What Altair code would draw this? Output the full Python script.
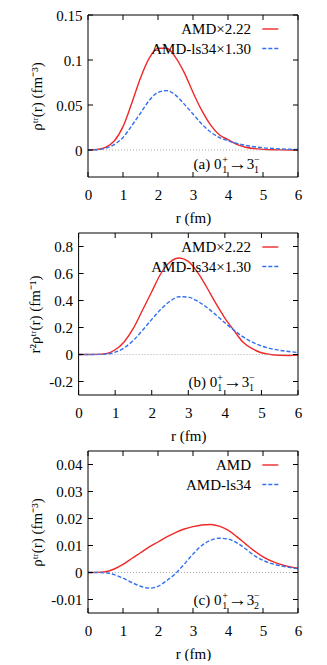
import altair as alt
import pandas as pd

# ---------------- data ----------------
r_grid = [0, 0.25, 0.5, 0.75, 1.0, 1.25, 1.5, 1.75, 2.0, 2.25, 2.5, 2.75, 3.0,
          3.25, 3.5, 3.75, 4.0, 4.25, 4.5, 4.75, 5.0, 5.25, 5.5, 5.75, 6.0]

amd_a = [0, 0.0005, 0.003, 0.010, 0.026, 0.052, 0.080, 0.102, 0.113, 0.113, 0.103,
         0.086, 0.064, 0.044, 0.028, 0.017, 0.0115, 0.0062, 0.003, 0.0015, 0.0007,
         0.0003, 0.0001, 0.0, 0.0]
ls34_a = [0, 0.0003, 0.002, 0.006, 0.014, 0.027, 0.041, 0.055, 0.064, 0.066, 0.061,
          0.051, 0.040, 0.029, 0.020, 0.014, 0.0102, 0.0074, 0.0052, 0.0036, 0.0025,
          0.0018, 0.0012, 0.0008, 0.0006]

amd_b = [0, 0, 0.001, 0.006, 0.035, 0.095, 0.195, 0.33, 0.465, 0.60, 0.685, 0.715,
         0.69, 0.61, 0.50, 0.38, 0.27, 0.178, 0.09, 0.043, 0.013, 0.0, -0.006,
         -0.007, -0.005]
ls34_b = [0, 0, 0.0005, 0.003, 0.017, 0.05, 0.105, 0.18, 0.26, 0.335, 0.395, 0.428,
          0.425, 0.395, 0.35, 0.295, 0.235, 0.18, 0.13, 0.092, 0.063, 0.044, 0.031,
          0.022, 0.015]

amd_c = [0, 0.00003, 0.0003, 0.0013, 0.0030, 0.0052, 0.0073, 0.0095, 0.0113, 0.0132,
         0.0148, 0.0161, 0.0170, 0.0176, 0.0178, 0.0172, 0.0157, 0.0133, 0.0106,
         0.0080, 0.0058, 0.0042, 0.0030, 0.0022, 0.0016]
ls34_c = [0, 0, -0.0001, -0.0008, -0.0021, -0.0037, -0.0051, -0.0058, -0.0051,
          -0.0030, -0.0004, 0.0031, 0.0068, 0.0100, 0.0119, 0.0127, 0.0124, 0.0110,
          0.0088, 0.0063, 0.0045, 0.0033, 0.0025, 0.0019, 0.0014]

x_ticks = [0, 1, 2, 3, 4, 5, 6]
y_ticks_a = [0, 0.05, 0.1, 0.15]
y_ticks_b = [-0.2, 0, 0.2, 0.4, 0.6, 0.8]
y_ticks_c = [-0.01, 0, 0.01, 0.02, 0.03, 0.04]

labels_ab = ["AMD×2.22", "AMD-ls34×1.30"]
labels_c = ["AMD", "AMD-ls34"]

title_a = "ρᵗʳ(r) (fm⁻³)"
title_b = "r²ρᵗʳ(r) (fm⁻¹)"
title_c = "ρᵗʳ(r) (fm⁻³)"

# ---------------- style ----------------
FONT = "Liberation Serif, Times New Roman, serif"
FS = 15
RED = "#f02828"
BLUE = "#2f6ff0"
W = 210
H = 162


def panel(amd, ls34, labels, y_dom, y_ticks, y_title, letter, final_sub,
          x_lo, ext, tpad, ann_x):
    n = len(r_grid)
    df = pd.DataFrame({
        "r": r_grid * 2,
        "v": amd + ls34,
        "s": [labels[0]] * n + [labels[1]] * n,
    })
    xs = alt.Scale(domain=[0, 6], range=[x_lo, W], nice=False, zero=False)
    ys = alt.Scale(domain=y_dom, nice=False, zero=False)
    common = dict(ticks=False, domain=False, grid=False, labelFont=FONT,
                  titleFont=FONT, labelFontSize=FS, titleFontSize=FS,
                  titleFontWeight="normal", labelColor="black", titleColor="black",
                  labelFlush=False, labelExpr="datum.value + ''")
    x_axis = alt.Axis(values=x_ticks, title="r (fm)", labelPadding=10,
                      titlePadding=8, **common)
    ykw = dict(values=y_ticks, title=y_title, labelPadding=6, minExtent=ext,
               maxExtent=ext, titlePadding=tpad, **common)
    if x_lo != 0:
        ykw["offset"] = -x_lo
    y_axis = alt.Axis(**ykw)

    X = lambda f: alt.X(f, scale=xs, axis=x_axis)
    Y = lambda f: alt.Y(f, scale=ys, axis=y_axis)

    red = alt.Chart(df).transform_filter(alt.datum.s == labels[0]).mark_line(
        color=RED, strokeWidth=1.4, interpolate="monotone").encode(
        x=X("r:Q"), y=Y("v:Q"))
    blue = alt.Chart(df).transform_filter(alt.datum.s == labels[1]).mark_line(
        color=BLUE, strokeWidth=1.4, strokeDash=[4, 2], interpolate="monotone").encode(
        x=X("r:Q"), y=Y("v:Q"))

    zero = alt.Chart(pd.DataFrame({"v": [0]})).mark_rule(
        color="#9a9a9a", strokeWidth=0.8, strokeDash=[1, 2]).encode(
        y=Y("v:Q"), x=alt.value(x_lo), x2=alt.value(W))

    xt = pd.DataFrame({"r": x_ticks})
    yt = pd.DataFrame({"v": y_ticks})
    tk = dict(color="black", strokeWidth=1)
    xb = alt.Chart(xt).mark_rule(**tk).encode(
        x=X("r:Q"), y=alt.value(H), y2=alt.value(H - 5))
    xtop = alt.Chart(xt).mark_rule(**tk).encode(
        x=X("r:Q"), y=alt.value(0), y2=alt.value(5))
    yl = alt.Chart(yt).mark_rule(**tk).encode(
        y=Y("v:Q"), x=alt.value(x_lo), x2=alt.value(x_lo + 5))
    yr = alt.Chart(yt).mark_rule(**tk).encode(
        y=Y("v:Q"), x=alt.value(W - 5), x2=alt.value(W))

    frame = alt.Chart(pd.DataFrame({"k": [0]})).mark_rect(
        filled=False, stroke="black", strokeWidth=1).encode(
        x=alt.value(x_lo), x2=alt.value(W), y=alt.value(0), y2=alt.value(H))

    leg = []
    for i, (lab, col, dash) in enumerate([(labels[0], RED, None),
                                          (labels[1], BLUE, [4, 2])]):
        yy = 14 + 19.5 * i
        leg.append(alt.Chart(pd.DataFrame({"label": [lab]})).mark_text(
            align="right", baseline="middle", font=FONT, fontSize=FS,
            color="black").encode(text="label:N", x=alt.value(W - 47),
                                   y=alt.value(yy)))
        rule_kw = dict(color=col, strokeWidth=1.4)
        if dash:
            rule_kw["strokeDash"] = dash
        leg.append(alt.Chart(pd.DataFrame({"label": [lab]})).mark_rule(
            **rule_kw).encode(x=alt.value(W - 35.7), x2=alt.value(W - 19.7),
                              y=alt.value(yy)))

    base_y = H - 8
    pieces = [
        (f"({letter}) 0", 0, 0, FS),
        ("+", 28.6, -6.5, 10),
        ("1", 28.6, 3.5, 10),
        ("→", 34.3, 0.5, 19),
        ("3", 53.2, 0, FS),
        ("−", 60.5, -6.5, 10),
        (final_sub, 60.5, 3.5, 10),
    ]
    ann = []
    for txt, dx, dy, fs in pieces:
        ann.append(alt.Chart(pd.DataFrame({"t": [txt]})).mark_text(
            align="left", baseline="alphabetic", font=FONT, fontSize=fs,
            color="black").encode(text="t:N", x=alt.value(ann_x + dx),
                                   y=alt.value(base_y + dy)))

    return alt.layer(red, blue, zero, xb, xtop, yl, yr, frame, *leg, *ann).properties(
        width=W, height=H)


pa = panel(amd_a, ls34_a, labels_ab, [-0.03, 0.15], y_ticks_a, title_a, "a", "1",
           0, 34, 10, 105.6)
pb = panel(amd_b, ls34_b, labels_ab, [-0.3, 0.9], y_ticks_b, title_b, "b", "1",
           -9.4, 30, 6, 100.6)
pc = panel(amd_c, ls34_c, labels_c, [-0.015, 0.045], y_ticks_c, title_c, "c", "2",
           0, 34, 10, 105.6)

chart = alt.vconcat(pa, pb, pc, spacing=7).properties(
    padding={"left": 19, "top": 0, "right": 0, "bottom": 0}
).configure_view(stroke=None)

chart.save("out.html", embed_options={"renderer": "svg", "actions": False})
